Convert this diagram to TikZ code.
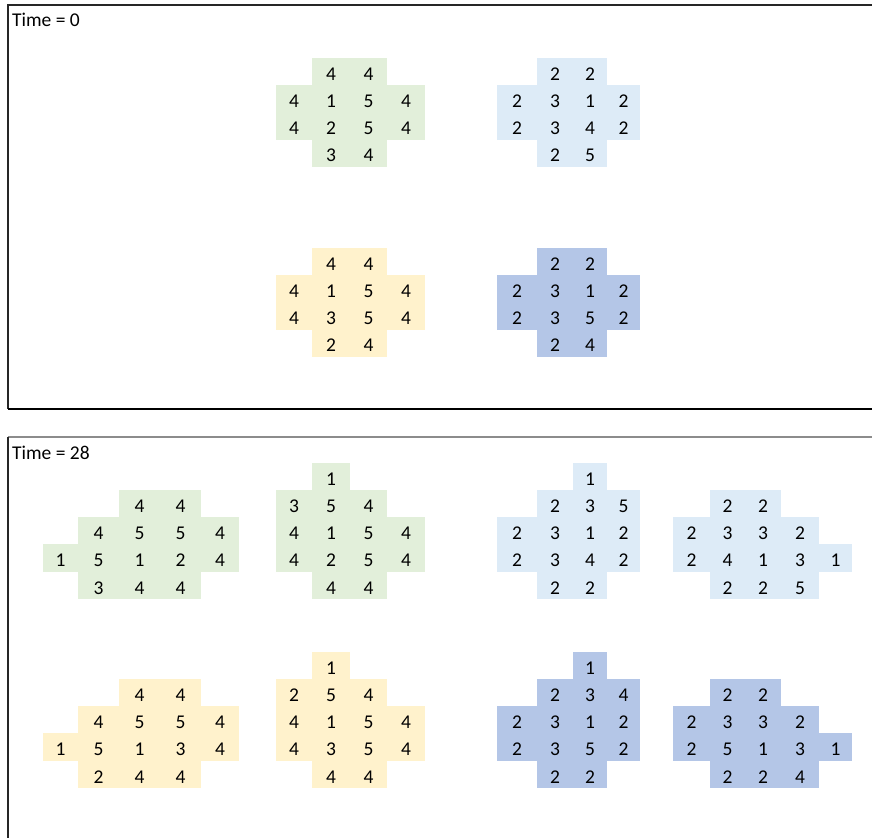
\documentclass[tikz,border=0pt]{standalone}
\usepackage{fontspec}
\setmainfont{Carlito}
\usepackage{tikz}
\usetikzlibrary{positioning}
\definecolor{greencell}{HTML}{E2EFDA}
\definecolor{skycell}{HTML}{DDEBF7}
\definecolor{sandcell}{HTML}{FFF2CC}
\definecolor{bluecell}{HTML}{B4C6E7}
\definecolor{frame}{HTML}{262626}
\definecolor{sheetgrey}{HTML}{8C8C8C}
\tikzset{
  celltext/.style={font=\fontsize{19.5}{21}\selectfont, text=black, anchor=base, inner sep=0pt},
  timelabel/.style={font=\fontsize{19.5}{22}\selectfont, anchor=base west, inner sep=0pt},
  frameline/.style={draw=frame, line width=1.2pt}
}
% left edges of the sheet columns (px)
\def\colx{{43,78,119,160,201,239,276,312,350,387,425,461,497,537,573,607,640,673,710,745,781,819,852}}
\def\rowh{27.2}
% #1 fill, #2 top y, #3 node prefix, #4 cells col/row/value
\newcommand{\cellblock}[4]{%
  \foreach \col/\rw/\val in {#4} {
    \pgfmathsetmacro\xl{\colx[\col]}
    \pgfmathsetmacro\xr{\colx[\col+1]}
    \pgfmathsetmacro\yt{#2+\rowh*\rw}
    \fill[#1] (\xl-0.3,\yt-0.3) rectangle (\xr+0.3,\yt+\rowh+0.3);
    \node[celltext] (#3-\col-\rw) at ({(\xl+\xr)/2},\yt+\rowh-5) {\val};
  }
}

\begin{document}
\begin{tikzpicture}[x=1pt,y=-1pt]
  \useasboundingbox (0,0) rectangle (872,838);
  % panel frames
  \draw[frameline] (872,5) -- (8,5) -- (8,409);
  \draw[draw=black,line width=2pt] (8,409) -- (872,409);
  \draw[draw=sheetgrey,line width=1.5pt] (8,437) -- (872,437);
  \draw[frameline] (8,437) -- (8,838);
  \node[timelabel] (time0) at (12,26) {Time = 0};
  \node[timelabel] (time28) at (12,459) {Time = 28};
  % time 0
  \cellblock{greencell}{58}{ga}{7/0/4,8/0/4, 6/1/4,7/1/1,8/1/5,9/1/4, 6/2/4,7/2/2,8/2/5,9/2/4, 7/3/3,8/3/4}
  \cellblock{skycell}{58}{sa}{13/0/2,14/0/2, 12/1/2,13/1/3,14/1/1,15/1/2, 12/2/2,13/2/3,14/2/4,15/2/2, 13/3/2,14/3/5}
  \cellblock{sandcell}{248}{ya}{7/0/4,8/0/4, 6/1/4,7/1/1,8/1/5,9/1/4, 6/2/4,7/2/3,8/2/5,9/2/4, 7/3/2,8/3/4}
  \cellblock{bluecell}{248}{ba}{13/0/2,14/0/2, 12/1/2,13/1/3,14/1/1,15/1/2, 12/2/2,13/2/3,14/2/5,15/2/2, 13/3/2,14/3/4}
  % time 28
  \cellblock{greencell}{463}{gb}{2/1/4,3/1/4, 1/2/4,2/2/5,3/2/5,4/2/4, 0/3/1,1/3/5,2/3/1,3/3/2,4/3/4, 1/4/3,2/4/4,3/4/4}
  \cellblock{greencell}{463}{gc}{7/0/1, 6/1/3,7/1/5,8/1/4, 6/2/4,7/2/1,8/2/5,9/2/4, 6/3/4,7/3/2,8/3/5,9/3/4, 7/4/4,8/4/4}
  \cellblock{skycell}{463}{sb}{14/0/1, 13/1/2,14/1/3,15/1/5, 12/2/2,13/2/3,14/2/1,15/2/2, 12/3/2,13/3/3,14/3/4,15/3/2, 13/4/2,14/4/2}
  \cellblock{skycell}{463}{sc}{18/1/2,19/1/2, 17/2/2,18/2/3,19/2/3,20/2/2, 17/3/2,18/3/4,19/3/1,20/3/3,21/3/1, 18/4/2,19/4/2,20/4/5}
  \cellblock{sandcell}{652}{yb}{2/1/4,3/1/4, 1/2/4,2/2/5,3/2/5,4/2/4, 0/3/1,1/3/5,2/3/1,3/3/3,4/3/4, 1/4/2,2/4/4,3/4/4}
  \cellblock{sandcell}{652}{yc}{7/0/1, 6/1/2,7/1/5,8/1/4, 6/2/4,7/2/1,8/2/5,9/2/4, 6/3/4,7/3/3,8/3/5,9/3/4, 7/4/4,8/4/4}
  \cellblock{bluecell}{652}{bb}{14/0/1, 13/1/2,14/1/3,15/1/4, 12/2/2,13/2/3,14/2/1,15/2/2, 12/3/2,13/3/3,14/3/5,15/3/2, 13/4/2,14/4/2}
  \cellblock{bluecell}{652}{bc}{18/1/2,19/1/2, 17/2/2,18/2/3,19/2/3,20/2/2, 17/3/2,18/3/5,19/3/1,20/3/3,21/3/1, 18/4/2,19/4/2,20/4/4}
\end{tikzpicture}
\end{document}
